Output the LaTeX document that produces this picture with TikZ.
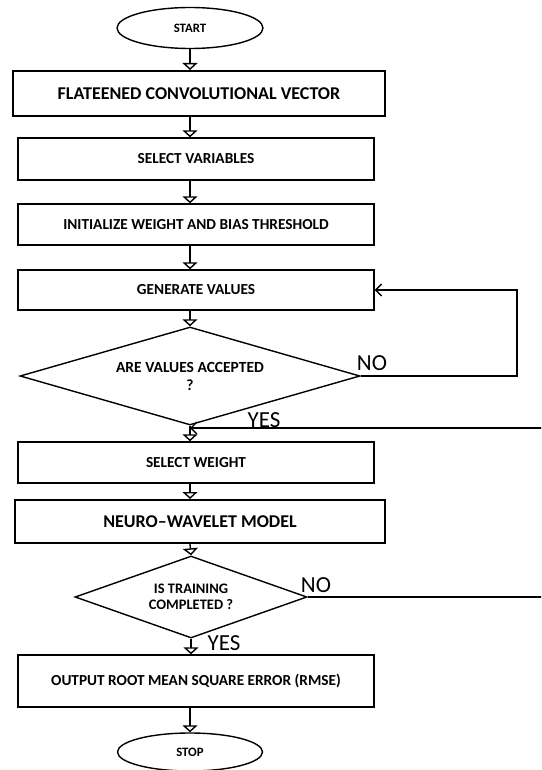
\documentclass[tikz,border=0pt]{standalone}
\usepackage{fontspec}
\setmainfont{Carlito}
\usetikzlibrary{shapes.geometric,arrows.meta}
\begin{document}
\begin{tikzpicture}[x=1pt,y=-1pt,
 box/.style={draw,line width=1.4pt,rectangle,inner sep=0pt,align=center,minimum width=356pt,font=\bfseries\fontsize{15.3}{18}\selectfont},
 thickbox/.style={box,line width=2pt,font=\bfseries\fontsize{18}{21}\selectfont},
 term/.style={draw,ellipse,line width=1.4pt,inner sep=0pt,minimum width=146pt,minimum height=41pt,font=\bfseries\fontsize{12.8}{15}\selectfont},
 dec/.style={draw,diamond,line width=1.4pt,inner sep=0pt,align=center},
 flow/.style={line width=1.4pt,-{Triangle[open,width=15pt,length=7pt,line width=1.4pt]}},
 loopline/.style={line width=1.4pt,-{Straight Barb[length=6pt,width=12pt,line width=1.4pt]}},
 lab/.style={inner sep=0pt,font=\fontsize{23}{26}\selectfont}]
\useasboundingbox (0,0) rectangle (541,770);
\clip (0,0) rectangle (541,770);
\node[term] (start) at (190,28) {START};
\node[thickbox,minimum width=372pt,minimum height=45pt] (flat) at (199,93.5) {FLATEENED CONVOLUTIONAL VECTOR};
\node[box,minimum height=42pt] (sel) at (196,159) {SELECT VARIABLES};
\node[box,minimum height=41pt] (init) at (196,224.5) {INITIALIZE WEIGHT AND BIAS THRESHOLD};
\node[box,minimum height=40pt] (gen) at (196,290) {GENERATE VALUES};
\node[dec,aspect=3.47,minimum width=340pt,minimum height=98pt,font=\bfseries\fontsize{15.5}{18}\selectfont] (d1) at (190,376) {ARE VALUES ACCEPTED\\?};
\node[box,minimum height=41pt] (sw) at (196,462.5) {SELECT WEIGHT};
\node[thickbox,minimum width=370pt,minimum height=43pt] (nw) at (200,521.5) {NEURO–WAVELET MODEL};
\node[dec,aspect=2.83,minimum width=232pt,minimum height=82pt,font=\bfseries\fontsize{14.5}{16}\selectfont] (d2) at (191,597) {IS TRAINING\\COMPLETED ?};
\node[box,minimum height=52pt] (out) at (196,681) {OUTPUT ROOT MEAN SQUARE ERROR (RMSE)};
\node[term,minimum width=145pt,minimum height=38pt] (stop) at (190,752) {STOP};
\draw[flow] (start.south) -- (start.south |- flat.north);
\draw[flow] (start |- flat.south) -- (start |- sel.north);
\draw[flow] (start |- sel.south) -- (start |- init.north);
\draw[flow] (start |- init.south) -- (start |- gen.north);
\draw[flow] (start |- gen.south) -- (d1.north);
\draw[flow] (d1.south) -- (d1.south |- sw.north);
\draw[flow] (start |- sw.south) -- (start |- nw.north);
\draw[flow] (start |- nw.south) -- (d2.north);
\draw[flow] (d2.south) -- (d2.south |- out.north);
\draw[flow] (start |- out.south) -- (stop.north);
\coordinate (r1) at (517,0);
\coordinate (r2) at (545,0);
\coordinate (yy) at (0,428);
\draw[loopline] (d1.east) -- (d1.east -| r1) -- (r1 |- gen.east) -- (gen.east);
\draw[loopline] (d2.east) -- (d2.east -| r2) -- (r2 |- yy) -- (yy -| d1.south);
\node[lab] (no1) at (372,363) {NO};
\node[lab] (yes1) at (264,420) {YES};
\node[lab] (no2) at (316,585) {NO};
\node[lab] (yes2) at (224,643) {YES};
\end{tikzpicture}
\end{document}
